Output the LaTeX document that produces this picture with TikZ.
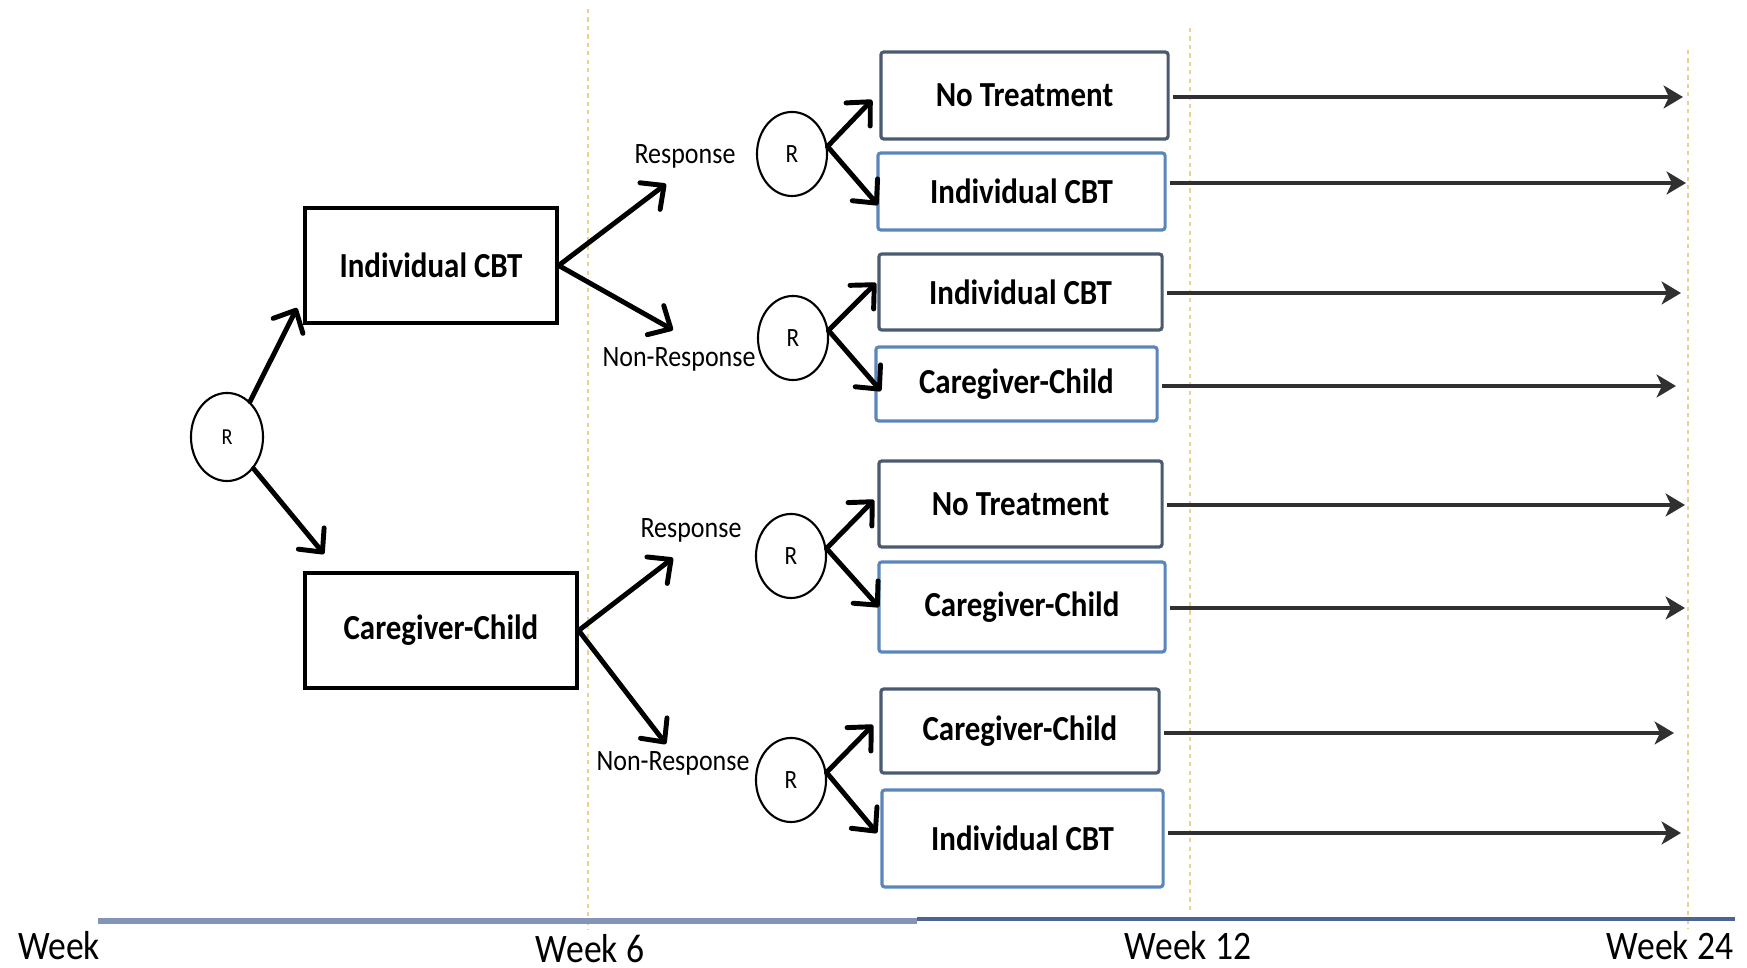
\documentclass[tikz,border=0pt]{standalone}
\usepackage{fontspec}
\setmainfont{Carlito}[FakeStretch=0.88]
\usetikzlibrary{arrows.meta,shapes.geometric}
\definecolor{slate}{HTML}{4A5A70}
\definecolor{accent}{HTML}{5A86BA}
\definecolor{guide}{HTML}{EDCF8E}
\definecolor{axisA}{HTML}{8494B8}
\definecolor{axisB}{HTML}{4D6394}
\definecolor{tipgray}{HTML}{303030}
\begin{document}
\begin{tikzpicture}[x=0.01cm,y=-0.01cm,
  stagebox/.style={draw, line width=0.9pt, inner sep=0pt, font=\fontsize{10}{12}\selectfont\bfseries},
  firstbox/.style={stagebox, draw=black},
  darkbox/.style={stagebox, draw=slate, rounded corners=0.8pt},
  bluebox/.style={stagebox, draw=accent, rounded corners=0.8pt},
  rand/.style={ellipse, draw, line width=0.6pt, inner sep=0pt, minimum width=0.70cm, minimum height=0.84cm, font=\fontsize{7.5}{9}\selectfont},
  branch/.style={line width=1.4pt, line cap=round, -{Straight Barb[length=5pt,width=9.5pt,round]}},
  follow/.style={draw=tipgray, line width=1pt, -{Stealth[length=5.5pt,width=6.5pt,inset=1.5pt]}},
  guideline/.style={draw=guide, line width=0.8pt, dash pattern=on 1.2pt off 1.2pt},
  outcome/.style={font=\fontsize{8.4}{10}\selectfont, inner sep=0pt},
  weeklbl/.style={font=\fontsize{11.5}{13}\selectfont, inner sep=0pt}
]
\useasboundingbox (0,0) rectangle (1747,968);

% time guides
\draw[guideline] (588,9) -- (588,930);
\draw[guideline] (1190,28) -- (1190,912);
\draw[guideline] (1688,50) -- (1688,928);

% time axis
\draw[axisA, line width=1.6pt] (98,921) -- (917,921);
\draw[axisB, line width=1.3pt] (917,919) -- (1735,919);

\node[weeklbl] (w0)  at (59,946)   {Week};
\node[weeklbl] (w6)  at (590,949)  {Week 6};
\node[weeklbl] (w12) at (1188,946) {Week 12};
\node[weeklbl] (w24) at (1670,946) {Week 24};

% first randomisation
\node[rand, minimum width=0.72cm, minimum height=0.88cm, font=\fontsize{6.5}{8}\selectfont] (r0) at (227,437) {R};
\node[firstbox, minimum width=2.52cm, minimum height=1.15cm] (i1) at (431,265.5) {Individual CBT};
\node[firstbox, minimum width=2.72cm, minimum height=1.15cm] (c1) at (441,630.5) {Caregiver-Child};

\coordinate (t1) at (297,308);
\coordinate (t2) at (324,554);
\draw[branch] (r0.57) -- (t1);
\draw[branch] (r0.-50) -- (t2);

% response assessment
\node[outcome] (resp1) at (685,156) {Response};
\node[outcome] (non1)  at (679,359) {Non-Response};
\node[outcome] (resp2) at (691,530) {Response};
\node[outcome] (non2)  at (673,763) {Non-Response};

\coordinate (t3) at (666,184);
\coordinate (t4) at (673,330);
\coordinate (t5) at (673,558);
\coordinate (t6) at (666,744);
\draw[branch] (i1.east) -- (t3);
\draw[branch] (i1.east) -- (t4);
\draw[branch] (c1.east) -- (t5);
\draw[branch] (c1.east) -- (t6);

% second randomisations
\node[rand] (ra) at (792,154) {R};
\node[rand] (rb) at (793,338) {R};
\node[rand] (rc) at (791,556) {R};
\node[rand] (rd) at (791,780) {R};

% second-stage treatments
\node[darkbox, minimum width=2.87cm, minimum height=0.87cm] (a) at (1024.5,95.5) {No Treatment};
\node[bluebox, minimum width=2.87cm, minimum height=0.77cm] (b) at (1021.5,191.5) {Individual CBT};
\node[darkbox, minimum width=2.83cm, minimum height=0.76cm] (c) at (1020.5,292) {Individual CBT};
\node[bluebox, minimum width=2.81cm, minimum height=0.74cm] (d) at (1016.5,384) {Caregiver-Child};
\node[darkbox, minimum width=2.83cm, minimum height=0.86cm] (e) at (1020.5,504) {No Treatment};
\node[bluebox, minimum width=2.86cm, minimum height=0.90cm] (f) at (1022,607) {Caregiver-Child};
\node[darkbox, minimum width=2.78cm, minimum height=0.84cm] (g) at (1020,731) {Caregiver-Child};
\node[bluebox, minimum width=2.81cm, minimum height=0.97cm] (h) at (1022.5,838.5) {Individual CBT};

\coordinate (ua) at (872,100);
\coordinate (la) at (878,205);
\coordinate (ub) at (876,283);
\coordinate (lb) at (881,391);
\coordinate (uc) at (874,500);
\coordinate (lc) at (879,607);
\coordinate (ud) at (873,725);
\coordinate (ld) at (877,833);
\foreach \r/\u/\l in {ra/ua/la, rb/ub/lb, rc/uc/lc, rd/ud/ld}{
  \draw[branch] (\r.12) -- (\u);
  \draw[branch] (\r.12) -- (\l);
}

% follow-up to week 24
\coordinate (ea) at (1683,97);
\coordinate (eb) at (1686,183);
\coordinate (ec) at (1681,293);
\coordinate (ed) at (1676,386);
\coordinate (ee) at (1685,505);
\coordinate (ef) at (1685,608);
\coordinate (eg) at (1674,733);
\coordinate (eh) at (1681,833);
\foreach \n in {a,b,c,d,e,f,g,h}{
  \draw[follow] ([xshift=1pt]\n.east |- e\n) -- (e\n);
}
\end{tikzpicture}
\end{document}
